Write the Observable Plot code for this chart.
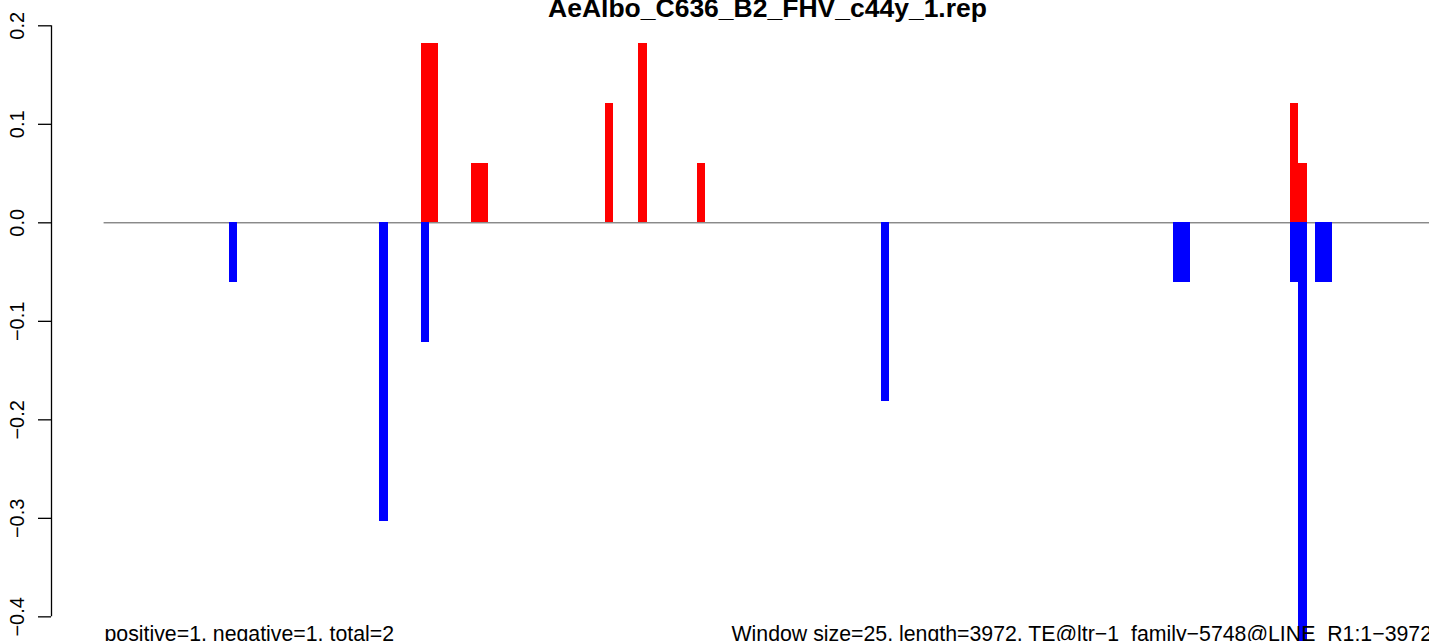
<!DOCTYPE html>
<html><head><meta charset="utf-8">
<script src="https://cdn.jsdelivr.net/npm/d3@7"></script>
<script src="https://cdn.jsdelivr.net/npm/@observablehq/plot@0.6"></script>
<style>html,body{margin:0;padding:0;background:#fff}</style>
</head><body><div id="chart"></div>
<script>
const title = "AeAlbo_C636_B2_FHV_c44y_1.rep";
const leftNote = "positive=1, negative=1, total=2";
const rightNote = "Window size=25, length=3972, TE@ltr\u22121_family\u22125748@LINE_R1:1\u22123972";
const windowSize = 25;
const seqLength = 3972;
const yTicks = [-0.4, -0.3, -0.2, -0.1, 0.0, 0.1, 0.2];

// positive (red) windows: window index and value
const posWindows = [38, 39, 44, 45, 60, 64, 71, 142, 143];
const posValues  = [0.1818, 0.1818, 0.0606, 0.0606, 0.1212, 0.1818, 0.0606, 0.1212, 0.0606];
// negative (blue) windows
const negWindows = [15, 33, 38, 93, 128, 129, 142, 143, 145, 146];
const negValues  = [-0.0606, -0.3030, -0.1212, -0.1818, -0.0606, -0.0606, -0.0606, -0.4848, -0.0606, -0.0606];

const pos = posWindows.map((w, i) => ({start: w * windowSize, end: (w + 1) * windowSize, v: posValues[i]}));
const neg = negWindows.map((w, i) => ({start: w * windowSize, end: (w + 1) * windowSize, v: negValues[i]}));

const xDomain = [-157.4, 3966];
const yDomain = [-0.42503, 0.22569];

const chart = Plot.plot({
  width: 1429, height: 641,
  marginLeft: 51, marginRight: 0, marginTop: 0, marginBottom: 0,
  style: {fontFamily: "'Liberation Sans', Arial, Helvetica, sans-serif", background: "#fff", color: "#000", overflow: "visible"},
  x: {domain: xDomain, axis: null},
  y: {domain: yDomain, axis: null},
  marks: [
    Plot.ruleY([0], {x1: 0, x2: seqLength, stroke: "#555555", strokeWidth: 1}),
    Plot.rect(pos, {x1: "start", x2: "end", y1: 0, y2: "v", fill: "#ff0000", clip: true, shapeRendering: "crispEdges"}),
    Plot.rect(neg, {x1: "start", x2: "end", y1: 0, y2: "v", fill: "#0000ff", clip: true, shapeRendering: "crispEdges"}),
    Plot.ruleX([xDomain[0]], {y1: yTicks[0], y2: yTicks[yTicks.length - 1], stroke: "#000", strokeWidth: 1.3}),
    Plot.axisY({anchor: "left", ticks: yTicks, tickSize: 13, tickRotate: -90, tickPadding: 15,
      tickFormat: d3.format(".1f"), fontSize: 20, label: null, stroke: "#000", strokeWidth: 1.3}),
    Plot.text([title], {frameAnchor: "top", dx: 27, dy: 16, lineAnchor: "bottom", fontSize: 26.5, fontWeight: "bold", fill: "#000"}),
    Plot.text([leftNote], {frameAnchor: "bottom-left", dx: 53, dy: -1, lineAnchor: "bottom", textAnchor: "start", fontSize: 21.3, fill: "#000"}),
    Plot.text([rightNote], {frameAnchor: "bottom-left", dx: 680, dy: -1, lineAnchor: "bottom", textAnchor: "start", fontSize: 21.3, fill: "#000"})
  ]
});
document.getElementById("chart").appendChild(chart);
</script>
</body></html>
